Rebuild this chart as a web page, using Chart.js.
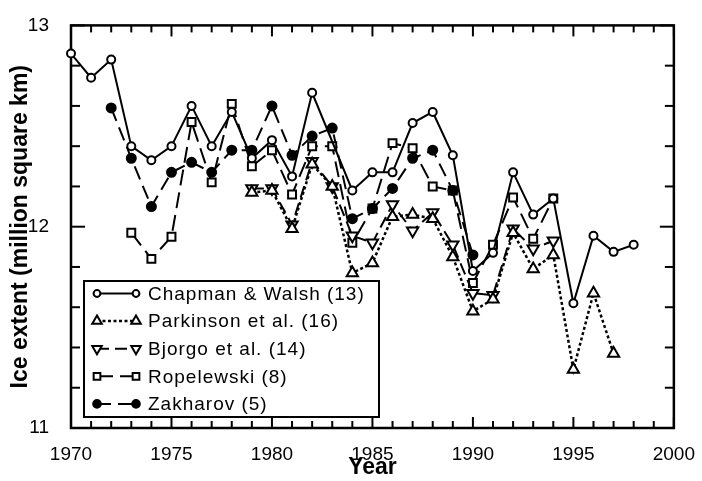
<!DOCTYPE html>
<html><head><meta charset="utf-8">
<style>html,body{margin:0;padding:0;background:#fff}#wrap{width:702px;height:481px;position:relative}</style>
<script src="https://cdn.jsdelivr.net/npm/chart.js@4.4.1/dist/chart.umd.min.js"></script>
</head><body><div id="wrap"><canvas id="c" width="702" height="481"></canvas></div>
<script>
const years = [1970,1971,1972,1973,1974,1975,1976,1977,1978,1979,1980,1981,1982,1983,1984,1985,1986,1987,1988,1989,1990,1991,1992,1993,1994,1995,1996,1997,1998];
const chapmanWalsh = [12.86,12.74,12.83,12.40,12.33,12.40,12.60,12.40,12.57,12.34,12.43,12.25,12.665,null,12.18,12.27,12.27,12.515,12.57,12.355,11.78,11.87,12.27,12.06,12.14,11.62,11.955,11.875,11.91];
const parkinson = [null,null,null,null,null,null,null,null,null,12.17,12.18,11.99,12.31,12.20,11.77,11.82,12.05,12.06,12.04,11.85,11.58,11.64,11.97,11.79,11.86,11.29,11.67,11.37,null];
const bjorgo = [null,null,null,null,null,null,null,null,null,12.19,12.19,12.01,12.325,12.20,11.955,11.92,12.11,11.98,12.07,11.91,11.67,11.66,11.99,11.89,11.93,null,null,null,null];
const ropelewski = [null,null,null,11.97,11.84,11.95,12.52,12.22,12.61,12.30,12.38,12.16,12.40,12.40,11.92,12.09,12.415,12.39,12.20,12.18,11.72,11.91,12.145,11.94,12.14,null,null,null,null];
const zakharov = [null,null,12.59,12.34,12.10,12.27,12.32,12.27,12.38,12.38,12.60,12.355,12.45,12.49,12.04,12.09,12.19,12.34,12.38,12.18,11.86,null,null,null,null,null,null,null,null];
const seriesNames = ["Chapman & Walsh (13)","Parkinson et al. (16)","Bjorgo et al. (14)","Ropelewski (8)","Zakharov (5)"];
const xTickValues = [1970,1975,1980,1985,1990,1995,2000];
const yTickValues = [11,12,13];

function pts(arr){ return years.map((yr,i)=>({x:yr,y:arr[i]})).filter(p=>p.y!==null); }

// Ropelewski's square coincides with Zakharov's dot in 1985 and appears filled
const ropeFill = (c)=> (c.raw && zakharov[years.indexOf(c.raw.x)]===c.raw.y) ? '#000' : '#fff';

const styles = [
  {data:chapmanWalsh, pointStyle:'circle', radius:4, rotation:0, bg:'#fff', dash:[], lw:2},
  {data:parkinson, pointStyle:'triangle', radius:6.5, rotation:0, bg:'#fff', dash:[3,2.5], lw:2.5},
  {data:bjorgo, pointStyle:'triangle', radius:6.5, rotation:180, bg:'#fff', dash:[12,6], lw:2},
  {data:ropelewski, pointStyle:'rect', radius:5.6, rotation:0, bg:ropeFill, dash:[16,7], lw:2},
  {data:zakharov, pointStyle:'circle', radius:4.5, rotation:0, bg:'#000', dash:[14,7], lw:2}
];

const datasets = styles.map((s,i)=>({
  label: seriesNames[i],
  data: pts(s.data),
  borderColor:'#000', borderWidth:s.lw, borderDash:s.dash,
  pointStyle:s.pointStyle, pointRadius:s.radius, pointRotation:s.rotation,
  pointBackgroundColor:s.bg, pointBorderColor:'#000', pointBorderWidth:2,
  fill:false, tension:0, clip:false, spanGaps:true
}));

const framePlugin = {
  id:'frame',
  beforeDatasetsDraw(chart){
    const {ctx, chartArea:{left,right,top,bottom}, scales:{x,y}} = chart;
    ctx.save();
    ctx.strokeStyle='#000';
    ctx.lineWidth=2;
    const seg=(a,b,c,d)=>{ctx.beginPath();ctx.moveTo(a,b);ctx.lineTo(c,d);ctx.stroke();};
    for(let yr=x.min; yr<=x.max; yr++){
      const px=x.getPixelForValue(yr);
      const len = yr%5===0 ? 11 : 7;
      seg(px,bottom,px,bottom-len);
      seg(px,top,px,top+len);
    }
    for(let i=0;i<=10;i++){
      const v=y.min+i*0.2;
      const py=y.getPixelForValue(v);
      const len = i%5===0 ? 14 : 9;
      seg(left,py,left+len,py);
      seg(right,py,right-len,py);
    }
    ctx.lineWidth=2.5;
    ctx.strokeRect(left,top,right-left,bottom-top);
    ctx.restore();
  }
};

const legendPlugin = {
  id:'boxLegend',
  afterDraw(chart){
    const {ctx, chartArea:{left,bottom}} = chart;
    const bx=left+13, by=bottom-147, bw=295, bh=136;
    ctx.save();
    ctx.fillStyle='#fff'; ctx.fillRect(bx,by,bw,bh);
    ctx.strokeStyle='#000'; ctx.lineWidth=2; ctx.strokeRect(bx,by,bw,bh);
    const rowH=27.6;
    chart.data.datasets.forEach((ds,i)=>{
      const cy = by+12.5+i*rowH;
      const xa = bx+13, xb = bx+52;
      ctx.setLineDash(ds.borderDash||[]);
      ctx.lineWidth=ds.borderWidth;
      ctx.strokeStyle='#000';
      ctx.beginPath();ctx.moveTo(xa,cy);ctx.lineTo(xb,cy);ctx.stroke();
      ctx.setLineDash([]);
      const r = Math.min(ds.pointRadius*0.85, 5.5);
      const fill = typeof ds.pointBackgroundColor==='function' ? '#fff' : ds.pointBackgroundColor;
      [xa,xb].forEach(px=>{
        ctx.fillStyle=fill; ctx.strokeStyle='#000'; ctx.lineWidth=2;
        Chart.helpers.drawPoint(ctx,{pointStyle:ds.pointStyle, radius:r, rotation:ds.pointRotation, borderWidth:2},px,cy);
      });
      ctx.fillStyle='#000';
      ctx.font='19px "Liberation Sans", Arial, sans-serif';
      try{ctx.letterSpacing='1px';}catch(e){}
      ctx.textBaseline='middle'; ctx.textAlign='left';
      ctx.fillText(ds.label, bx+64, cy+1);
      try{ctx.letterSpacing='0px';}catch(e){}
    });
    ctx.restore();
  }
};

new Chart(document.getElementById('c'),{
  type:'line',
  data:{datasets},
  options:{
    responsive:false, animation:false, devicePixelRatio:1,
    layout:{padding:{top:20,right:22,bottom:0,left:0}},
    plugins:{legend:{display:false}, tooltip:{enabled:false}},
    scales:{
      x:{type:'linear', min:1970, max:2000,
        afterFit(s){s.height=53;},
        afterBuildTicks(s){s.ticks=xTickValues.map(v=>({value:v}));},
        grid:{display:false}, border:{display:false},
        ticks:{padding:7, color:'#000', font:{family:'"Liberation Sans", Arial, sans-serif', size:19}, callback:v=>String(v), maxRotation:0, autoSkip:false},
        title:{display:true, text:'Year', color:'#000', padding:{top:0,bottom:0}, font:{family:'"Liberation Sans", Arial, sans-serif', size:23, weight:'bold'}}
      },
      y:{type:'linear', min:11, max:13,
        afterFit(s){s.width=71;},
        afterBuildTicks(s){s.ticks=yTickValues.map(v=>({value:v}));},
        grid:{display:false}, border:{display:false},
        ticks:{padding:14, color:'#000', font:{family:'"Liberation Sans", Arial, sans-serif', size:19}, callback:v=>String(v)},
        title:{display:true, text:'Ice extent (million square km)', color:'#000', padding:{top:7,bottom:0}, font:{family:'"Liberation Sans", Arial, sans-serif', size:23, weight:'bold'}}
      }
    }
  },
  plugins:[framePlugin, legendPlugin]
});
</script></body></html>
